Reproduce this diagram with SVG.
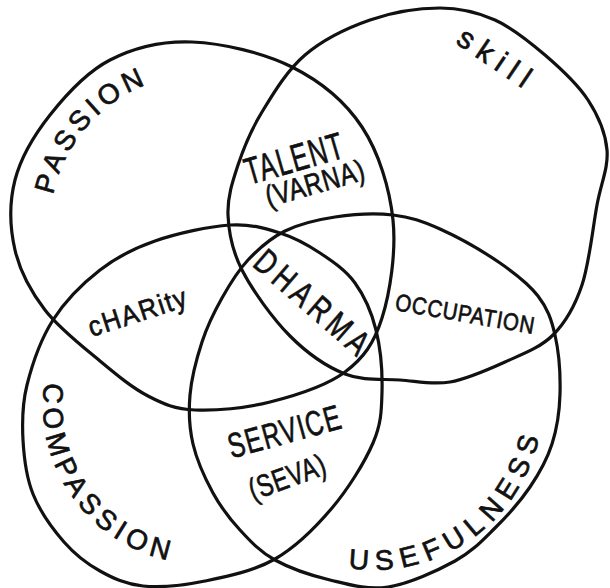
<svg xmlns="http://www.w3.org/2000/svg" width="610" height="588" viewBox="0 0 610 588">
<style>
.c{fill:none;stroke:#111;stroke-width:3.2;stroke-linejoin:round;stroke-linecap:round}
.t{font-family:"Liberation Sans",Arial,sans-serif;fill:#111;stroke:#111;stroke-width:0.7;text-anchor:middle}
</style>
<defs>
<path id="pPassion" d="M 50,223.9 A 152 152 0 0 1 177.7,76"/>
<path id="pCompassion" d="M 45.1,379.4 A 159 159 0 0 0 176.4,561.9"/>
<path id="pUseful" d="M 346.5,567.7 A 169 169 0 0 0 540.7,428.5"/>
</defs>
<rect width="610" height="588" fill="#fff"/>
<g id="connectors"></g>
<g id="passion">
<path class="c" d="M 192,42 C 222.3,43.2 263.7,52.8 292,67 C 320.3,81.2 345.2,101.5 362,127 C 378.8,152.5 389.7,188.2 393,220 C 396.3,251.8 390,292.7 382,318 C 374,343.3 363.7,358 345,372 C 326.3,386 295,395.7 270,402 C 245,408.3 215.3,411 195,410 C 174.7,409 163.8,404.2 148,396 C 132.2,387.8 117.2,375.3 100,361 C 82.8,346.7 59.2,328.5 45,310 C 30.8,291.5 20,271.7 15,250 C 10,228.3 9.2,202.5 15,180 C 20.8,157.5 34.2,135 50,115 C 65.8,95 86.3,72.2 110,60 C 133.7,47.8 161.7,40.8 192,42 Z"/>
<text class="t" font-size="28" letter-spacing="4.5"><textPath href="#pPassion" startOffset="50%">PASSION</textPath></text>
</g>
<g id="skill">
<path class="c" d="M 440,8 C 460.8,8 477.5,12.2 495,20 C 512.5,27.8 529.5,41.7 545,55 C 560.5,68.3 577.7,84.2 588,100 C 598.3,115.8 605.5,132.5 607,150 C 608.5,167.5 601.2,182.5 597,205 C 592.8,227.5 589.3,263.3 582,285 C 574.7,306.7 565.8,322.2 553,335 C 540.2,347.8 522.2,354.2 505,362 C 487.8,369.8 467.5,379 450,382 C 432.5,385 417.5,381.3 400,380 C 382.5,378.7 363.3,381.3 345,374 C 326.7,366.7 307.2,353.3 290,336 C 272.8,318.7 252.3,290.2 242,270 C 231.7,249.8 228.7,232.5 228,215 C 227.3,197.5 232.3,182.2 238,165 C 243.7,147.8 250.8,130.3 262,112 C 273.2,93.7 287,70.3 305,55 C 323,39.7 347.5,27.8 370,20 C 392.5,12.2 419.2,8 440,8 Z"/>
<text class="t" font-size="30" letter-spacing="8" transform="translate(492,68) rotate(34)">skill</text>
</g>
<g id="compassion">
<path class="c" d="M 230,225 C 250.8,223.7 265,228.3 280,233 C 295,237.7 307.5,244.7 320,253 C 332.5,261.3 345.7,270.2 355,283 C 364.3,295.8 371.5,311.8 376,330 C 380.5,348.2 382.5,373.2 382,392 C 381.5,410.8 381.3,423.7 373,443 C 364.7,462.3 348.3,488.7 332,508 C 315.7,527.3 296.2,546.8 275,559 C 253.8,571.2 227,576.5 205,581 C 183,585.5 160.5,587.7 143,586 C 125.5,584.3 113.2,578.3 100,571 C 86.8,563.7 75.2,554.8 64,542 C 52.8,529.2 39.8,511 33,494 C 26.2,477 24,458.2 23,440 C 22,421.8 22,405 27,385 C 32,365 40.8,339.2 53,320 C 65.2,300.8 83,283.2 100,270 C 117,256.8 133.3,248.5 155,241 C 176.7,233.5 209.2,226.3 230,225 Z"/>
<text class="t" font-size="28" letter-spacing="5.5"><textPath href="#pCompassion" startOffset="50%">COMPASSION</textPath></text>
</g>
<g id="usefulness">
<path class="c" d="M 393,215 C 410.5,217 422.2,221 440,229 C 457.8,237 483.7,251.8 500,263 C 516.3,274.2 528.8,284 538,296 C 547.2,308 551.3,318.7 555,335 C 558.7,351.3 560.5,375.8 560,394 C 559.5,412.2 557,428.5 552,444 C 547,459.5 539.5,473 530,487 C 520.5,501 507.5,515.7 495,528 C 482.5,540.3 472.8,551.2 455,561 C 437.2,570.8 408.8,583.8 388,587 C 367.2,590.2 348.8,584.5 330,580 C 311.2,575.5 290,568.3 275,560 C 260,551.7 250.3,541.2 240,530 C 229.7,518.8 220.8,507.3 213,493 C 205.2,478.7 196.8,460.3 193,444 C 189.2,427.7 188.5,412 190,395 C 191.5,378 196.7,358.2 202,342 C 207.3,325.8 214.3,311.7 222,298 C 229.7,284.3 237.5,271.2 248,260 C 258.5,248.8 270.5,238.2 285,231 C 299.5,223.8 317,219.7 335,217 C 353,214.3 375.5,213 393,215 Z"/>
<text class="t" font-size="28" letter-spacing="7.5"><textPath href="#pUseful" startOffset="50%">USEFULNESS</textPath></text>
</g>
<g id="talent">
<text class="t" font-size="38" letter-spacing="2" transform="translate(298,171) rotate(-16) scale(0.66,1)">TALENT</text>
<text class="t" font-size="30" letter-spacing="1" transform="translate(318,193) rotate(-16) scale(0.8,1)">(VARNA)</text>
</g>
<g id="dharma">
<text class="t" font-size="35" letter-spacing="7" transform="translate(306,313) rotate(41) scale(0.75,1)">DHARMA</text>
</g>
<g id="charity">
<text class="t" font-size="28" letter-spacing="2" transform="translate(141,321) rotate(-18) scale(0.9,1)">cHARity</text>
</g>
<g id="occupation">
<text class="t" font-size="24" letter-spacing="1" transform="translate(464,322) rotate(9.8) scale(0.85,1)">OCCUPATION</text>
</g>
<g id="service">
<text class="t" font-size="35" letter-spacing="2" transform="translate(288,443) rotate(-15.5) scale(0.7,1)">SERVICE</text>
<text class="t" font-size="31" letter-spacing="1" transform="translate(291,487) rotate(-20) scale(0.75,1)">(SEVA)</text>
</g>
</svg>
